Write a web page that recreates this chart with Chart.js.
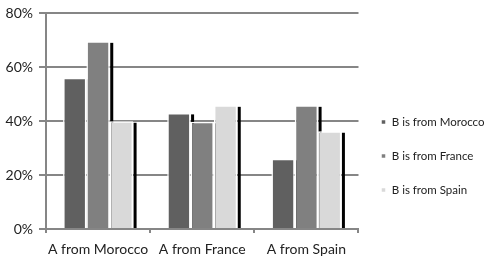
<!DOCTYPE html>
<html>
<head>
<meta charset="utf-8">
<script src="https://cdn.jsdelivr.net/npm/chart.js@4/dist/chart.umd.min.js"></script>
<style>
  html, body { margin: 0; padding: 0; background: #fff; }
  #wrap { width: 500px; height: 264px; }
</style>
</head>
<body>
<div id="wrap"><canvas id="origins"></canvas></div>
<script>
const categories = ["A from Morocco", "A from France", "A from Spain"];
const seriesNames = ["B is from Morocco", "B is from France", "B is from Spain"];
const bMorocco = [56, 43, 26];
const bFrance = [69.5, 39.7, 45.8];
const bSpain = [39.9, 45.8, 36.2];
const yTicks = [0, 20, 40, 60, 80];

const barColors = ["#606060", "#808080", "#d9d9d9"];
const axisGray = "#868686";
const fontFamily = "Lato, 'Open Sans', sans-serif";

// black drop shadow on the right side of every bar, drawn under the bars
const barShadow = {
    id: "barShadow",
    beforeDatasetsDraw(chart) {
        const ctx = chart.ctx;
        ctx.save();
        ctx.fillStyle = "#000";
        chart.data.datasets.forEach((ds, i) => {
            chart.getDatasetMeta(i).data.forEach(bar => {
                const p = bar.getProps(["x", "y", "base", "width"], true);
                const right = p.x + p.width / 2;
                ctx.fillRect(right + 0.5, p.y + 1.5, 3, p.base - p.y - 1.5);
            });
        });
        ctx.restore();
    }
};

const values = [bMorocco, bFrance, bSpain];
const datasets = seriesNames.map((name, i) => ({
    label: name,
    data: values[i],
    backgroundColor: barColors[i],
    borderColor: "#ffffff",
    borderWidth: 1.5,
    barPercentage: 1,
    categoryPercentage: 0.672
}));

new Chart(document.getElementById("origins"), {
    type: "bar",
    data: { labels: categories, datasets: datasets },
    plugins: [barShadow],
    options: {
        responsive: true,
        maintainAspectRatio: false,
        animation: false,
        layout: { padding: { top: 5, right: 5.5, bottom: 0, left: 0 } },
        plugins: {
            tooltip: { enabled: false },
            legend: {
                position: "right",
                maxWidth: 142,
                title: { display: true, text: " ", padding: { top: 30, bottom: 0 }, font: { size: 11 } },
                labels: {
                    boxWidth: 5,
                    boxHeight: 5,
                    padding: 22.5,
                    color: "#222",
                    font: { family: fontFamily, size: 11.5 }
                }
            }
        },
        scales: {
            x: {
                afterFit: s => { s.height = 35; },
                grid: {
                    display: true,
                    drawOnChartArea: false,
                    offset: true,
                    tickLength: 4,
                    color: axisGray,
                    lineWidth: 2
                },
                border: { display: true, color: axisGray, width: 2 },
                ticks: {
                    color: "#222",
                    padding: 8,
                    maxRotation: 0,
                    minRotation: 0,
                    autoSkip: false,
                    font: { family: fontFamily, size: 14 }
                }
            },
            y: {
                min: 0,
                max: 80,
                afterFit: s => { s.width = 46; },
                afterBuildTicks: s => { s.ticks = yTicks.map(v => ({ value: v })); },
                grid: { color: axisGray, lineWidth: 2, tickLength: 7 },
                border: { display: true, color: axisGray, width: 2 },
                ticks: {
                    color: "#222",
                    padding: 6,
                    font: { family: fontFamily, size: 14, lineHeight: 1 },
                    callback: v => v + "%"
                }
            }
        }
    }
});
</script>
</body>
</html>
